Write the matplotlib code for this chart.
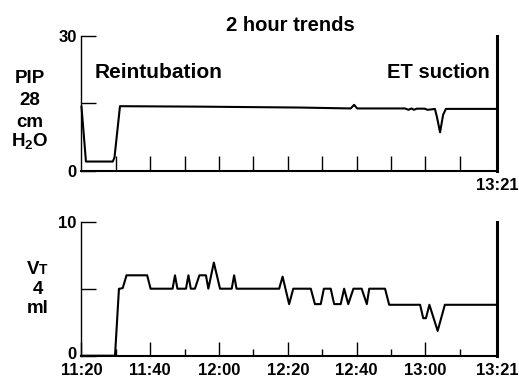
import matplotlib
matplotlib.use("Agg")
import matplotlib.pyplot as plt
import matplotlib.transforms as mtransforms

plt.rcParams['font.family'] = ['Liberation Sans', 'DejaVu Sans']
plt.rcParams['font.weight'] = 'bold'
plt.rcParams['mathtext.fontset'] = 'custom'
plt.rcParams['mathtext.rm'] = 'Liberation Sans:bold'
plt.rcParams['mathtext.bf'] = 'Liberation Sans:bold'
plt.rcParams['mathtext.default'] = 'bf'

# ---- data (minutes after 11:20) ----
pip_t = [0, 1.3, 9.1, 9.6, 11.2, 34.5, 63.6, 78.3, 79.3, 80.2, 94.1, 95.1, 96.0,
         96.7, 97.5, 99.9, 100.6, 101.9, 102.8, 103.4, 104.3, 105.2, 106.0, 120.9]
pip_v = [14.3, 2.1, 2.1, 3.0, 14.4, 14.3, 14.1, 13.9, 14.7, 13.9, 13.9, 13.6, 13.9,
         13.6, 13.85, 13.85, 13.6, 13.7, 13.8, 12.0, 8.6, 12.5, 13.8, 13.8]

vt_t = [0, 9.75, 10.9, 11.2, 12.0, 13.1, 19.1, 20.1, 26.5, 27.2, 27.9, 30.4, 31.1,
        31.8, 33.0, 34.3, 36.2, 36.9, 38.5, 40.3, 43.7, 44.4, 45.1, 57.5, 58.5,
        60.4, 61.6, 66.7, 67.9, 69.6, 70.5, 72.5, 73.5, 75.4, 76.4, 77.6, 79.1,
        81.5, 83.0, 83.7, 88.3, 89.5, 98.5, 99.4, 100.2, 101.2, 103.6, 105.7, 120.7]
vt_v = [0, 0, 5, 5, 5.05, 6, 6, 5, 5, 6, 5, 5, 6,
        5, 5, 6, 6, 5, 6.95, 5, 5, 6, 5, 5, 5.9,
        3.85, 5, 5, 3.85, 3.85, 5, 5, 3.85, 3.85, 5, 3.85, 5,
        5, 3.85, 5, 5, 3.8, 3.8, 2.8, 2.8, 3.8, 1.85, 3.8, 3.8]

top_xticks = [10, 20, 30, 40, 50, 60, 70, 80, 90, 100, 110, 121]
top_xlabels = [''] * 11 + ['13:21']
bot_major = [0, 20, 40, 60, 80, 100, 121]
bot_labels = ['11:20', '11:40', '12:00', '12:20', '12:40', '13:00', '13:21']
bot_minor = [10, 30, 50, 70, 90, 110]

fig = plt.figure(figsize=(5.19, 3.81), dpi=100)
ax1 = fig.add_axes([0.1570, 0.5512, 0.8015, 0.3543])
ax2 = fig.add_axes([0.1570, 0.0664, 0.8015, 0.3517])

for ax in (ax1, ax2):
    ax.set_xlim(0, 121)
    ax.spines['top'].set_visible(False)
    ax.spines['left'].set_linewidth(1.0)
    ax.spines['bottom'].set_linewidth(1.5)
    ax.spines['right'].set_linewidth(2.2)
    ax.tick_params(axis='both', which='both', direction='in', width=1.0,
                   labelsize=12, colors='black')
    ax.tick_params(axis='y', length=10.8, pad=3.5)

ax1.plot(pip_t, pip_v, color='black', lw=1.5, clip_on=False)
ax1.set_ylim(0, 30)
ax1.set_yticks([0, 15, 30])
ax1.set_yticklabels(['0', '', '30'])
ax1.set_xticks(top_xticks)
ax1.set_xticklabels(top_xlabels)
ax1.tick_params(axis='x', length=10.8, pad=5)

ax2.plot(vt_t, vt_v, color='black', lw=1.5, clip_on=False)
ax2.set_ylim(0, 10)
ax2.set_yticks([0, 5, 10])
ax2.set_yticklabels(['0', '', '10'])
ax2.set_xticks(bot_major)
ax2.set_xticklabels(bot_labels)
ax2.set_xticks(bot_minor, minor=True)
ax2.tick_params(axis='x', which='major', length=10, pad=5.5)
ax2.tick_params(axis='x', which='minor', length=4.7)

for lab in ax1.get_yticklabels() + ax2.get_yticklabels() + ax1.get_xticklabels() + ax2.get_xticklabels():
    lab.set_fontweight('bold')

# nudge the bottom "0" up slightly so it does not touch "11:20"
zero_lab = ax2.get_yticklabels()[0]
zero_lab.set_transform(zero_lab.get_transform() +
                       mtransforms.ScaledTranslation(0, 3 / 100, fig.dpi_scale_trans))

fig.text(0.5588, 0.9186, '2 hour trends', ha='center', va='baseline', fontsize=14.5, fontweight='bold')
fig.text(95 / 519, 0.7945, 'Reintubation', ha='left', va='baseline', fontsize=15, fontweight='bold')
fig.text(0.9441, 0.7953, 'ET suction', ha='right', va='baseline', fontsize=14.5, fontweight='bold')

cx = 29.5 / 519
fs = 13.5
fig.text(cx, 0.7814, 'PIP', ha='center', va='baseline', fontsize=fs, fontweight='bold')
fig.text(cx, 0.7244, '28', ha='center', va='baseline', fontsize=fs, fontweight='bold')
fig.text(cx, 0.6667, 'cm', ha='center', va='baseline', fontsize=fs, fontweight='bold')
fig.text(cx, 0.6168, r'H$_2$O', ha='center', va='baseline', fontsize=fs, fontweight='bold')

cx2 = 39 / 519
fig.text(cx2, 1 - 274 / 381, 'V', ha='right', va='baseline', fontsize=fs, fontweight='bold')
fig.text(cx2, 1 - 274 / 381, 'T', ha='left', va='baseline', fontsize=10, fontweight='bold')
fig.text(37.5 / 519, 1 - 294 / 381, '4', ha='center', va='baseline', fontsize=fs, fontweight='bold')
fig.text(37.5 / 519, 1 - 313 / 381, 'ml', ha='center', va='baseline', fontsize=fs, fontweight='bold')

fig.savefig('out.png', dpi=100, facecolor='white')
